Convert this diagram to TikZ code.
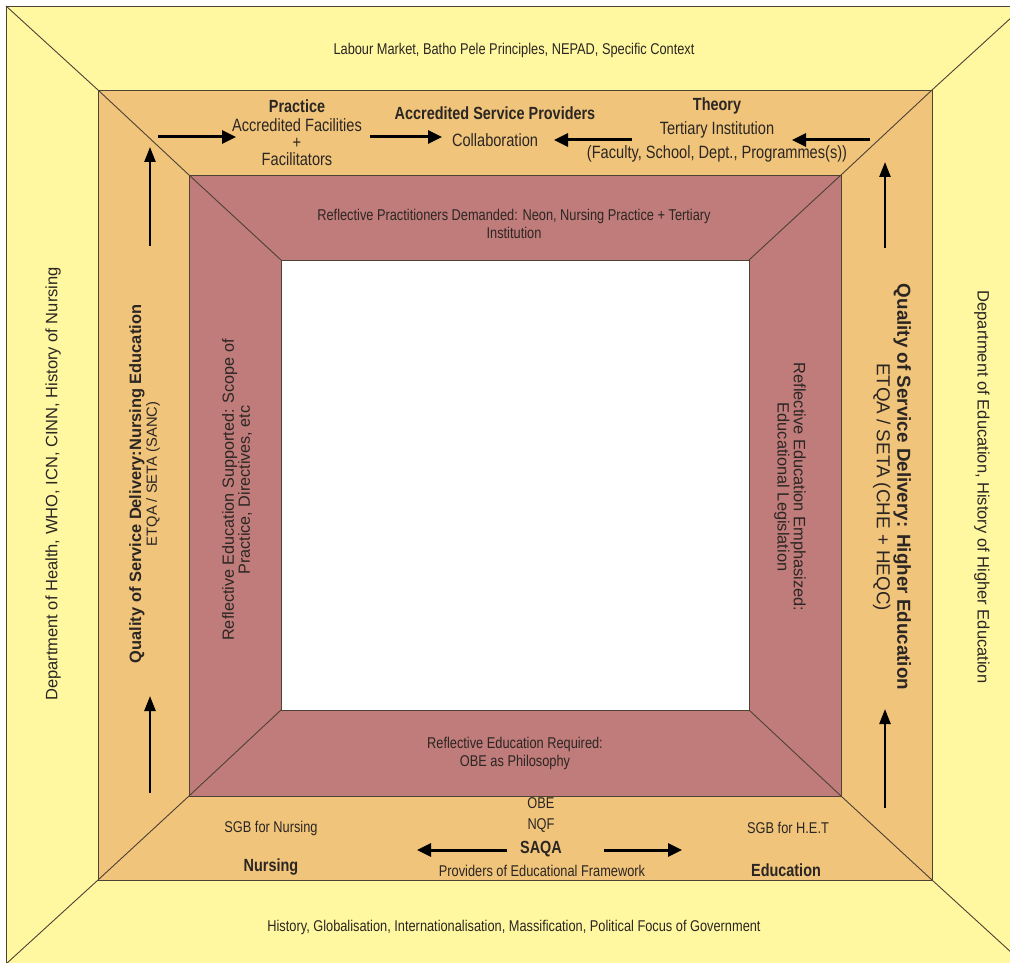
\documentclass[tikz,border=0pt]{standalone}
\usepackage{fontspec}
\setmainfont{Liberation Sans}
\newfontfamily\narrowsf[FakeStretch=0.82]{Liberation Sans}
\usetikzlibrary{arrows.meta}

\definecolor{outerfill}{HTML}{FFF8A0}
\definecolor{midfill}{HTML}{F0C47A}
\definecolor{innerfill}{HTML}{BF7C7A}
\definecolor{edge}{HTML}{4D4234}
\definecolor{ink}{HTML}{2B2623}

\begin{document}
\begin{tikzpicture}[x=1pt,y=-1pt,
  frame/.style={draw=edge,line width=0.9pt},
  txt/.style={font=\narrowsf\fontsize{15.6}{18}\selectfont,text=ink,align=center,inner sep=0pt},
  toptxt/.style={font=\narrowsf\fontsize{17.8}{17}\selectfont,text=ink,align=center,inner sep=0pt},
  head/.style={font=\narrowsf\bfseries\fontsize{17.6}{19}\selectfont,text=ink,align=center,inner sep=0pt},
  vtxt/.style={font=\fontsize{16.5}{14.5}\selectfont,text=ink,align=center,inner sep=0pt},
  vhead/.style={font=\bfseries\fontsize{16.4}{18}\selectfont,text=ink,align=center,inner sep=0pt},
  flow/.style={line width=3pt,-{Triangle[length=14pt,width=13pt]}},
  rise/.style={line width=2.4pt,-{Triangle[length=15pt,width=11pt]}},
]
\useasboundingbox (0,0) rectangle (1010,963);
\clip (0,0) rectangle (1010,963);

% corner points of the four nested frames
\coordinate (o1) at (6,6);     \coordinate (o2) at (1024,6);
\coordinate (o3) at (1024,964); \coordinate (o4) at (6,964);
\coordinate (m1) at (98,90);   \coordinate (m2) at (932,90);
\coordinate (m3) at (932,880); \coordinate (m4) at (98,880);
\coordinate (r1) at (189,175); \coordinate (r2) at (841,175);
\coordinate (r3) at (841,796); \coordinate (r4) at (189,796);
\coordinate (w1) at (281,260); \coordinate (w2) at (749,260);
\coordinate (w3) at (749,710); \coordinate (w4) at (281,710);

% filled bands
\fill[white] (0,0) rectangle (1010,963);
\filldraw[fill=outerfill,frame] (o1) rectangle (o3);
\filldraw[fill=midfill,frame] (m1) rectangle (m3);
\filldraw[fill=innerfill,frame] (r1) rectangle (r3);
\filldraw[fill=white,frame] (w1) rectangle (w3);

% mitre lines joining the corners
\foreach \k in {1,2,3,4}{
  \draw[frame] (o\k) -- (m\k) -- (r\k) -- (w\k);
}

% outer band
\node[txt] (ctx) at (514,50) {Labour Market, Batho Pele Principles, NEPAD, Specific Context};
\node[txt] (hist) at (514,927) {History, Globalisation, Internationalisation, Massification, Political Focus of Government};
\node[vtxt,rotate=90] (doh) at (53,484) {Department of Health, WHO, ICN, CINN, History of Nursing};
\node[vtxt,rotate=-90] (doe) at (982,487) {Department of Education, History of Higher Education};

% middle band, top
\node[head] (practice) at (297,106) {Practice};
\node[toptxt] (facil) at (297,142) {Accredited Facilities\\+\\Facilitators};
\node[head] (asp) at (495,113) {Accredited Service Providers};
\node[toptxt] (collab) at (495,140) {Collaboration};
\node[head] (theory) at (717,106) {Theory};
\node[toptxt] (tert) at (717,130) {Tertiary Institution};
\node[toptxt] (fac) at (717,154) {(Faculty, School, Dept., Programmes(s))};

\coordinate (a1s) at (158,137); \coordinate (a1e) at (236,137);
\coordinate (a2s) at (370,137); \coordinate (a2e) at (442,137);
\coordinate (a3s) at (632,140); \coordinate (a3e) at (554,140);
\coordinate (a4s) at (870,140); \coordinate (a4e) at (792,140);
\draw[flow] (a1s) -- (a1e);
\draw[flow] (a2s) -- (a2e);
\draw[flow] (a3s) -- (a3e);
\draw[flow] (a4s) -- (a4e);

% middle band, sides
\node[vhead,rotate=90] (qnurse) at (137,484) {Quality of Service Delivery:Nursing Education};
\node[vtxt,font=\fontsize{14.7}{16}\selectfont,rotate=90] (etqal) at (153,474) {ETQA / SETA (SANC)};
\node[text=ink,align=center,inner sep=0pt,font=\fontsize{18.8}{20.5}\selectfont,rotate=-90] (qhigher) at (892,487)
  {\textbf{Quality of Service Delivery: Higher Education}\\ETQA / SETA (CHE + HEQC)};

\coordinate (l1s) at (150,246); \coordinate (l1e) at (150,147);
\coordinate (l2s) at (150,793); \coordinate (l2e) at (150,696);
\coordinate (rr1s) at (885,248); \coordinate (rr1e) at (885,162);
\coordinate (rr2s) at (885,808); \coordinate (rr2e) at (885,709);
\draw[rise] (l1s) -- (l1e);
\draw[rise] (l2s) -- (l2e);
\draw[rise] (rr1s) -- (rr1e);
\draw[rise] (rr2s) -- (rr2e);

% middle band, bottom
\node[txt] (obe) at (541,803) {OBE};
\node[txt] (nqf) at (541,826) {NQF};
\node[head] (saqa) at (541,849) {SAQA};
\node[txt] (prov) at (542,871) {Providers of Educational Framework};
\node[txt] (sgbn) at (271,828) {SGB for Nursing};
\node[head] (nursing) at (271,867) {Nursing};
\node[txt] (sgbh) at (788,828) {SGB for H.E.T};
\node[head] (educ) at (786,870) {Education};

\coordinate (b1s) at (507,850); \coordinate (b1e) at (417,850);
\coordinate (b2s) at (604,850); \coordinate (b2e) at (682,850);
\draw[flow] (b1s) -- (b1e);
\draw[flow] (b2s) -- (b2e);

% inner band
\node[txt] (demand) at (514,224) {Reflective Practitioners Demanded: Neon, Nursing Practice + Tertiary\\Institution};
\node[txt] (require) at (515,753) {Reflective Education Required:\\OBE as Philosophy};
\node[vtxt,font=\fontsize{16.2}{14}\selectfont,rotate=90] (support) at (237,490) {Reflective Education Supported: Scope of\\Practice, Directives, etc};
\node[vtxt,font=\fontsize{16.4}{15}\selectfont,rotate=-90] (emph) at (790,487) {Reflective Education Emphasized:\\Educational Legislation};
\end{tikzpicture}
\end{document}
